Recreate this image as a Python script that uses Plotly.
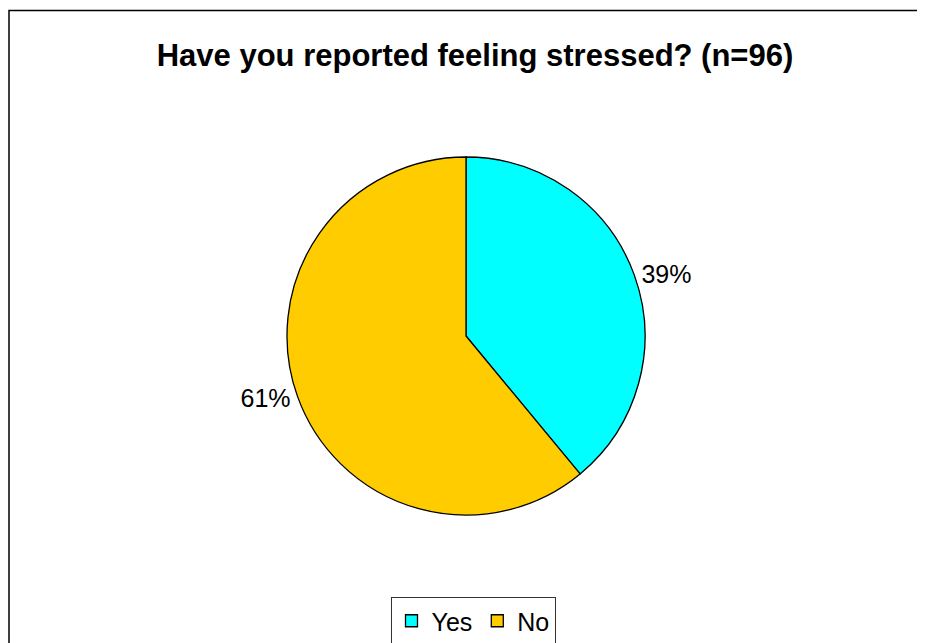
import plotly.graph_objects as go

labels = ["Yes", "No"]
values = [39, 61]
colors = ["#00FFFF", "#FFCC00"]

W, H = 925, 643
OFF = 8  # page body margin
cx, cy, r = 466 - OFF, 336 - OFF, 179

fig = go.Figure(go.Pie(
    labels=labels, values=values, sort=False, direction="clockwise", rotation=0,
    marker=dict(colors=colors, line=dict(color="black", width=1.3)),
    textinfo="percent", textposition="outside",
    texttemplate="%{percent:.0%}",
    textfont=dict(family="Liberation Sans, Arial", size=25, color="black"),
    domain=dict(x=[(cx - r) / W, (cx + r) / W], y=[(H - cy - r) / H, (H - cy + r) / H]),
    showlegend=True,
))

fig.update_layout(
    width=W, height=H,
    margin=dict(l=0, r=0, t=0, b=0),
    paper_bgcolor="white",
    title=dict(text="<b>Have you reported feeling stressed? (n=96)</b>",
               x=(475 - OFF) / W, xanchor="center", y=1 - (55 - OFF) / H, yanchor="middle",
               font=dict(family="Liberation Sans, Arial", size=31, color="black")),
    legend=dict(orientation="h", x=(473 - OFF) / W, xanchor="center", y=1 - (621 - OFF) / H, yanchor="middle",
                bordercolor="#333333", borderwidth=1, bgcolor="white",
                font=dict(family="Liberation Sans, Arial", size=25, color="black"),
                itemwidth=30, traceorder="normal"),
    shapes=[dict(type="rect", xref="paper", yref="paper",
                 x0=(9 - OFF) / W, x1=1.3, y0=-0.3, y1=1 - (10.5 - OFF) / H,
                 line=dict(color="black", width=1.5), fillcolor="rgba(0,0,0,0)")],
)

fig.write_html("out.html")
